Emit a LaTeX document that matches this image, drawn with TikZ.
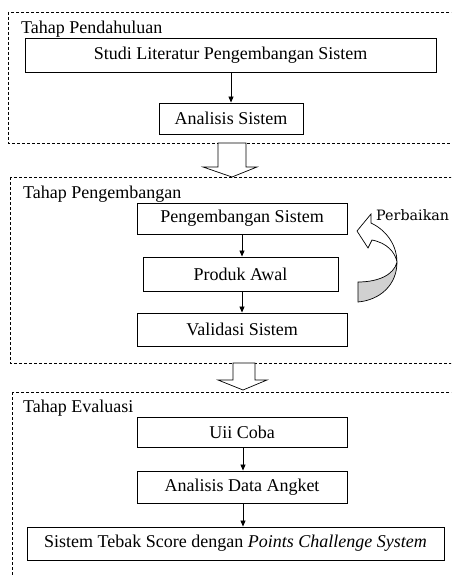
\documentclass[tikz,border=0pt]{standalone}
\usepackage{fontspec}
\setmainfont{Liberation Serif}
\newfontfamily\labelfont{DejaVu Serif}
\usetikzlibrary{arrows.meta}
\begin{document}
\begin{tikzpicture}[x=1pt,y=-1pt,
  stagebox/.style={draw, line width=0.6pt, dash pattern=on 3pt off 2pt},
  procbox/.style={draw, line width=0.9pt, inner sep=0pt, font=\fontsize{18}{21}\selectfont},
  flow/.style={-{Triangle[length=6pt,width=5pt]}, line width=0.8pt},
  stagetitle/.style={anchor=base west, inner sep=0pt, font=\fontsize{18}{21}\selectfont},
  bigarrow/.style={draw, line width=0.7pt, fill=white}]
\useasboundingbox (0,0) rectangle (451,577);
\clip (0,0) rectangle (451,577);

% stage frames
\draw[stagebox] (8,12) rectangle (460,143);
\draw[stagebox] (10,177) rectangle (460,363);
\draw[stagebox] (12,392) rectangle (460,590);

\node[stagetitle] (t1) at (21,34) {Tahap Pendahuluan};
\node[stagetitle] (t2) at (23,199) {Tahap Pengembangan};
\node[stagetitle] (t3) at (23,412) {Tahap Evaluasi};

% stage 1
\node[procbox, minimum width=411pt, minimum height=34pt] (studi) at (230.5,55) {Studi Literatur Pengembangan Sistem};
\node[procbox, minimum width=144pt, minimum height=31pt] (analisis) at (231,118.5) {Analisis Sistem};
\draw[flow] (studi.south -| analisis) -- (analisis);

% stage 2
\node[procbox, minimum width=210pt, minimum height=31pt] (pengembangan) at (242,218.5) {Pengembangan Sistem};
\node[procbox, minimum width=195pt, minimum height=34pt] (produk) at (240.5,274) {Produk Awal};
\node[procbox, minimum width=210pt, minimum height=33pt] (validasi) at (242,329.5) {Validasi Sistem};
\draw[flow] (pengembangan.south) -- (pengembangan.south |- produk.north);
\draw[flow] (produk.south -| pengembangan.south) -- (validasi.north);

% stage 3
\node[procbox, minimum width=210pt, minimum height=30pt] (uji) at (242,432) {Uii Coba};
\node[procbox, minimum width=210pt, minimum height=32pt] (angket) at (242,487) {Analisis Data Angket};
\node[procbox, minimum width=417pt, minimum height=33pt] (hasil) at (235.5,543.5) {Sistem Tebak Score dengan \textit{Points Challenge System}};
\draw[flow] (uji.south -| 243,0) -- (243,0 |- angket.north);
\draw[flow] (angket.south -| 243,0) -- (243,0 |- hasil.north);

% hollow arrows between stages
\draw[bigarrow] (218,143) -- (246,143) -- (246,167) -- (257,167) -- (232,177) -- (203,167) -- (218,167) -- cycle;
\draw[bigarrow] (233,363) -- (255,363) -- (255,380) -- (267,380) -- (243,390) -- (218,380) -- (233,380) -- cycle;

% curved feedback arrow
\coordinate (twist) at (397,262);
\draw[line width=0.7pt, fill=white]
  (357,231) -- (371,214) -- (371,223)
  .. controls (388,231) and (397,247) .. (twist)
  .. controls (395,252) and (387,243) .. (372,240)
  -- (368,248) -- cycle;
\draw[line width=0.7pt, fill=black!18]
  (twist) .. controls (397,285) and (380,300) .. (358,302)
  -- (358,282) .. controls (378,282) and (394,275) .. (twist);
\node[anchor=base west, inner sep=0pt, font=\labelfont\fontsize{14.3}{16}\selectfont] (perbaikan) at (376,220) {Perbaikan};
\end{tikzpicture}
\end{document}
